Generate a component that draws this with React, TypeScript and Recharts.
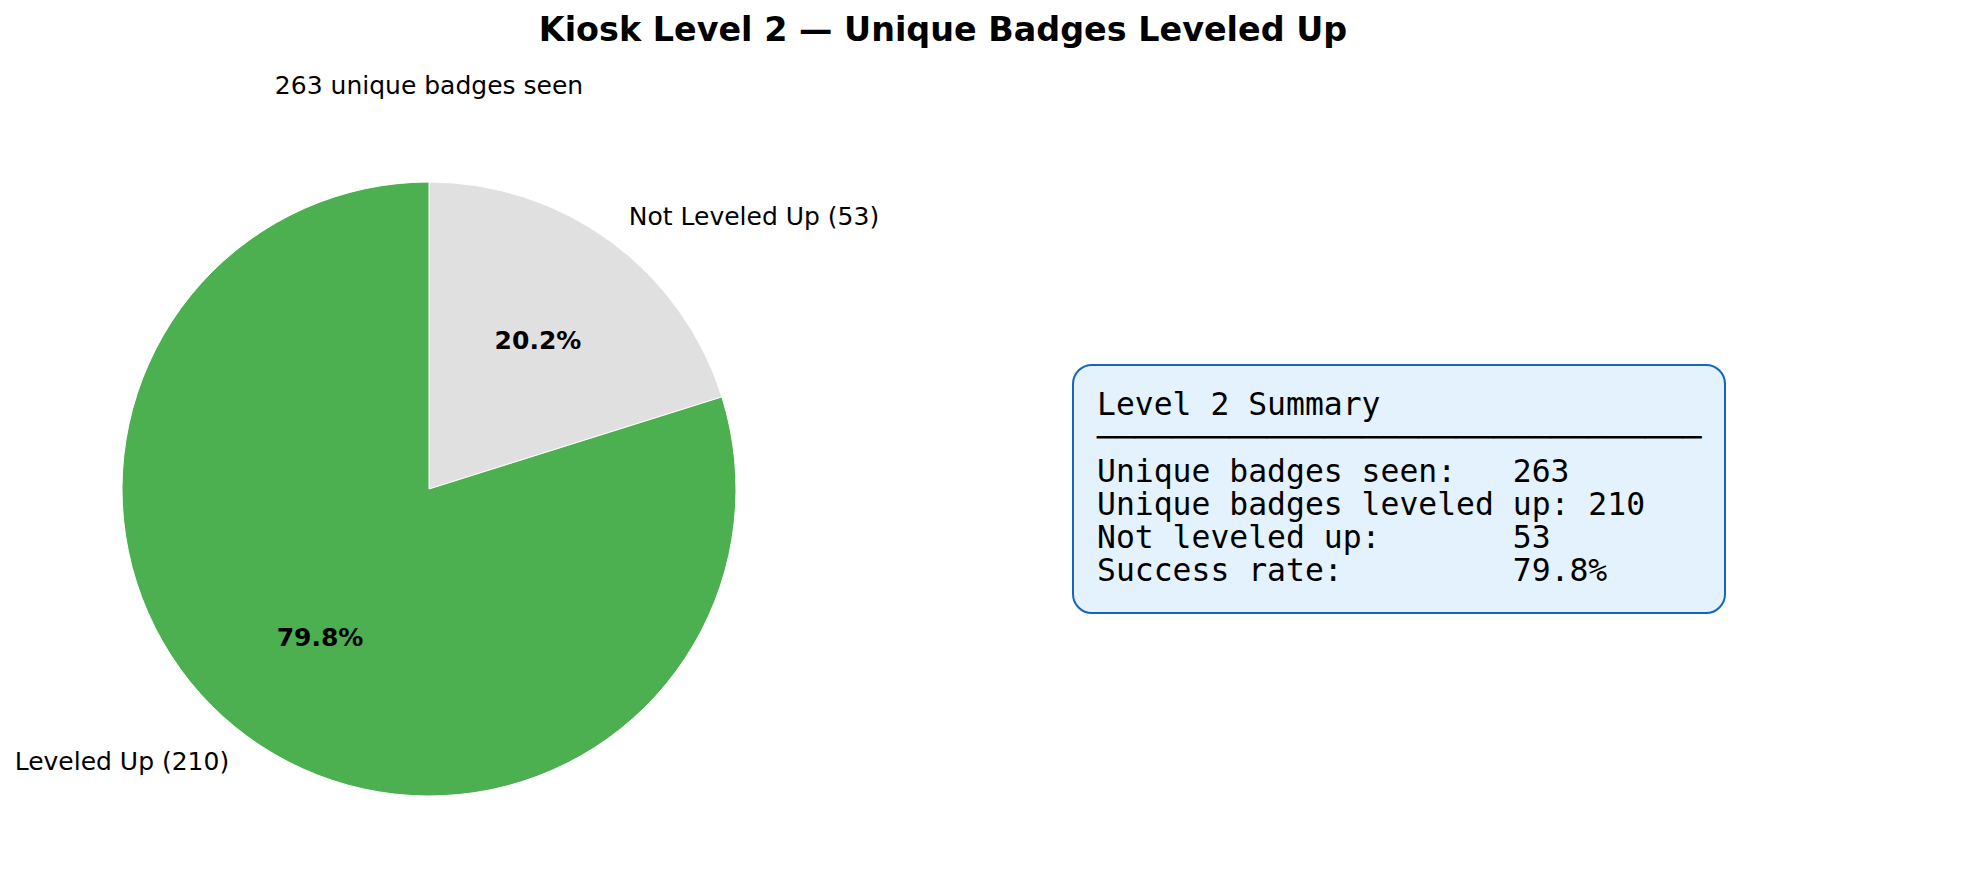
import React from "react";
import { PieChart, Pie, Cell } from "recharts";

// chart values
const categories = ["Not Leveled Up", "Leveled Up"];
const counts = [53, 210];
const sliceColors = ["#E0E0E0", "#4CAF50"];
const chartTitle = "Kiosk Level 2 \u2014 Unique Badges Leveled Up";
const summaryTitle = "Level 2 Summary";

const total = counts.reduce((a, b) => a + b, 0);
const leveled = counts[1];
const notLeveled = counts[0];
const rate = ((leveled / total) * 100).toFixed(1);

const summaryLines = [
  summaryTitle,
  "\u2500".repeat(32),
  `Unique badges seen:   ${total}`,
  `Unique badges leveled up: ${leveled}`,
  `Not leveled up:       ${notLeveled}`,
  `Success rate:         ${rate}%`,
];

const pieData = categories.map((name, i) => ({ name, value: counts[i] }));

const RAD = Math.PI / 180;
const FONT = "'DejaVu Sans', sans-serif";

function renderLabel(props: any) {
  const { cx, cy, midAngle, outerRadius, percent, name, value } = props;
  const cos = Math.cos(-midAngle * RAD);
  const sin = Math.sin(-midAngle * RAD);
  const lx = cx + outerRadius * 1.1 * cos;
  const ly = cy + outerRadius * 1.1 * sin;
  const px = cx + outerRadius * 0.6 * cos;
  const py = cy + outerRadius * 0.6 * sin;
  return (
    <g>
      <text
        x={lx}
        y={ly}
        textAnchor={lx > cx ? "start" : "end"}
        dominantBaseline="central"
        fontFamily={FONT}
        fontSize={25}
        fill="#000"
      >
        {`${name} (${value})`}
      </text>
      <text
        x={px}
        y={py}
        textAnchor="middle"
        dominantBaseline="central"
        fontFamily={FONT}
        fontSize={25}
        fontWeight="bold"
        fill="#000"
      >
        {`${(percent * 100).toFixed(1)}%`}
      </text>
    </g>
  );
}

export default function App() {
  return (
    <div style={{ position: "absolute", left: 0, top: 0, width: 1987, height: 889, background: "#fff", fontFamily: FONT }}>
      <div
        style={{
          position: "absolute",
          left: 943,
          top: 30,
          transform: "translate(-50%, -50%)",
          fontSize: 33.4,
          fontWeight: "bold",
          whiteSpace: "nowrap",
          lineHeight: 1,
        }}
      >
        {chartTitle}
      </div>
      <div
        style={{
          position: "absolute",
          left: 429,
          top: 85,
          transform: "translate(-50%, -50%)",
          fontSize: 25,
          whiteSpace: "nowrap",
          lineHeight: 1,
        }}
      >
        {`${total} unique badges seen`}
      </div>

      <PieChart
        width={1987}
        height={889}
        margin={{ top: 0, right: 0, bottom: 0, left: 0 }}
        style={{ position: "absolute", left: 0, top: 0 }}
      >
        <Pie
          data={pieData}
          dataKey="value"
          nameKey="name"
          cx={429}
          cy={489}
          outerRadius={307}
          startAngle={90}
          endAngle={-270}
          stroke="#fff"
          strokeWidth={1}
          label={renderLabel}
          labelLine={false}
          isAnimationActive={false}
        >
          {pieData.map((d, i) => (
            <Cell key={d.name} fill={sliceColors[i]} />
          ))}
        </Pie>
      </PieChart>

      {/* summary box on the right */}
      <div
        style={{
          position: "absolute",
          left: 1072,
          top: 364,
          width: 654,
          height: 250,
          boxSizing: "border-box",
          background: "#E3F2FD",
          border: "2px solid #1565C0",
          borderRadius: 20,
          padding: "22px 0 0 23px",
          fontFamily: "'DejaVu Sans Mono', monospace",
          fontSize: 31.4,
          lineHeight: "33.3px",
          whiteSpace: "pre",
          color: "#000",
        }}
      >
        {summaryLines.map((l, i) => (
          <div key={i}>{l}</div>
        ))}
      </div>
    </div>
  );
}
